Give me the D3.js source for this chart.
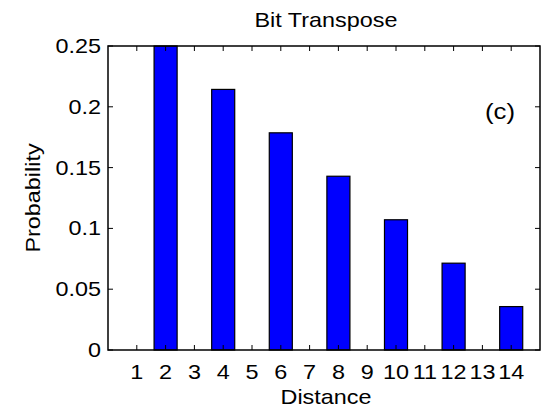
<!DOCTYPE html>
<html>
<head>
<meta charset="utf-8">
<script src="https://cdn.jsdelivr.net/npm/d3@7"></script>
<style>
  html, body { margin: 0; padding: 0; background: #fff; }
  svg { display: block; }
  text { font-family: "Liberation Sans", Arial, Helvetica, sans-serif; fill: #000; }
</style>
</head>
<body>
<svg id="chart" width="544" height="410"></svg>
<script>
// Probability of each hop distance under the bit-transpose pattern
const distances = [1, 2, 3, 4, 5, 6, 7, 8, 9, 10, 11, 12, 13, 14];
const probabilities = [0, 0.25, 0, 0.2143, 0, 0.1786, 0, 0.1429, 0, 0.1071, 0, 0.0714, 0, 0.0357];
const yTicks = [0, 0.05, 0.1, 0.15, 0.2, 0.25];
const titleText = "Bit Transpose";
const xLabelText = "Distance";
const yLabelText = "Probability";
const panelTag = "(c)";

const W = 544, H = 410;
const plot = { left: 108, right: 540, top: 46, bottom: 350 };
const stretch = 1.17;   // horizontal widening of the glyphs
const fontPx = 20;
const tickLen = 5;

const svg = d3.select("#chart");

const x = d3.scaleLinear().domain([0, 15]).range([plot.left, plot.right]);
const y = d3.scaleLinear().domain([0, 0.25]).range([plot.bottom, plot.top]);
const barW = (x(1) - x(0)) * 0.8;

// helper: text placed at (px, py), widened horizontally
function label(px, py, str, anchor, size, rotate) {
  const rot = rotate ? ` rotate(${rotate})` : "";
  return svg.append("text")
    .attr("transform", `translate(${px},${py})${rot} scale(${stretch},1)`)
    .attr("text-anchor", anchor)
    .style("font-size", size + "px")
    .text(str);
}

// bars
svg.append("g")
  .selectAll("rect")
  .data(distances.map((d, i) => ({ d, p: probabilities[i] })).filter(r => r.p > 0))
  .join("rect")
  .attr("x", r => x(r.d) - barW / 2)
  .attr("y", r => y(r.p))
  .attr("width", barW)
  .attr("height", r => y(0) - y(r.p))
  .attr("fill", "#0000ff")
  .attr("stroke", "#000")
  .attr("stroke-width", 1.2);

// inward ticks on all four sides
const ticks = svg.append("g").attr("stroke", "#000").attr("stroke-width", 1);
distances.forEach(d => {
  ticks.append("line").attr("x1", x(d)).attr("x2", x(d))
    .attr("y1", plot.bottom).attr("y2", plot.bottom - tickLen);
  ticks.append("line").attr("x1", x(d)).attr("x2", x(d))
    .attr("y1", plot.top).attr("y2", plot.top + tickLen);
});
yTicks.forEach(t => {
  ticks.append("line").attr("x1", plot.left).attr("x2", plot.left + tickLen)
    .attr("y1", y(t)).attr("y2", y(t));
  ticks.append("line").attr("x1", plot.right).attr("x2", plot.right - tickLen)
    .attr("y1", y(t)).attr("y2", y(t));
});

// axes box
svg.append("rect")
  .attr("x", plot.left).attr("y", plot.top)
  .attr("width", plot.right - plot.left).attr("height", plot.bottom - plot.top)
  .attr("fill", "none").attr("stroke", "#000").attr("stroke-width", 1.5);

// tick labels
const fmt = d3.format("~g");
distances.forEach(d => label(x(d), plot.bottom + 29, String(d), "middle", fontPx));
yTicks.forEach(t => label(plot.left - 7, y(t) + 7, fmt(t), "end", fontPx));

// titles
label((plot.left + plot.right) / 2 + 2, 27, titleText, "middle", fontPx);
label((plot.left + plot.right) / 2 + 2, 404, xLabelText, "middle", fontPx);
label(40, (plot.top + plot.bottom) / 2, yLabelText, "middle", fontPx, -90);
label(500, 119, panelTag, "middle", 22);
</script>
</body>
</html>
